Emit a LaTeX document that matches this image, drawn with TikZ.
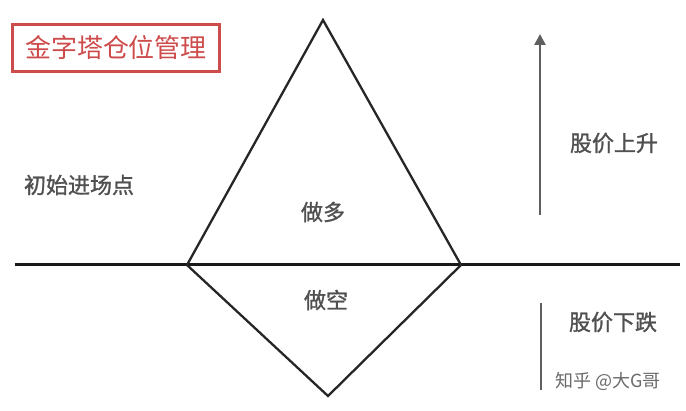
\documentclass[tikz,border=0pt]{standalone}
\usepackage{fontspec}
\setmainfont{Liberation Sans}
\newfontfamily\cjk{Noto Sans CJK SC}
\newfontfamily\cjkb[FakeBold=1.2]{Noto Sans CJK SC}
\usetikzlibrary{arrows.meta}
\definecolor{titlered}{RGB}{205,75,75}
\definecolor{txtgray}{RGB}{80,80,80}
\definecolor{arrgray}{RGB}{95,95,95}
\tikzset{
  lbl/.style={font=\cjkb\fontsize{22}{22}\selectfont, text=txtgray, inner sep=0pt},
  edge/.style={draw=black!85, line width=2.3pt},
}
\begin{document}
\begin{tikzpicture}[x=1pt,y=-1pt]
\useasboundingbox (0,0) rectangle (686,411);
% title
\node[draw=titlered, line width=2.5pt, text=titlered, font=\cjk\fontsize{26}{26}\selectfont, minimum width=207pt, minimum height=47pt, inner sep=0pt] (title) at (116,48) {金字塔仓位管理};
% coordinates
\coordinate (apex) at (323,20);
\coordinate (bl) at (187,265);
\coordinate (br) at (461,265);
\coordinate (bot) at (328,396);
\coordinate (hl) at (15,265);
\coordinate (hr) at (680,265);
% horizontal line
\draw[line width=3pt, black!90] (hl) -- (hr);
% triangle and lower V
\draw[edge, line join=miter] (bl) -- (apex) -- (br);
\draw[edge] (bl) -- (bot) -- (br);
% labels
\node[lbl] (long) at (323,212) {做多};
\node[lbl] (short) at (326,300) {做空};
\node[lbl] (entry) at (79,185) {初始进场点};
\node[lbl] (up) at (614,143) {股价上升};
\node[lbl] (down) at (613,322) {股价下跌};
\node[font=\cjk\fontsize{18}{18}\selectfont, text=txtgray!85, inner sep=0pt] (wm) at (608,381) {知乎 @大G哥};
% arrows
\coordinate (a1) at (540,215);
\coordinate (a2) at (540,34);
\draw[arrgray, line width=2.6pt, -{Triangle[length=11pt,width=11pt]}] (a1) -- (a2);
\coordinate (d1) at (541,303);
\coordinate (d2) at (541,390);
\draw[arrgray, line width=2.6pt] (d1) -- (d2);
\end{tikzpicture}
\end{document}
